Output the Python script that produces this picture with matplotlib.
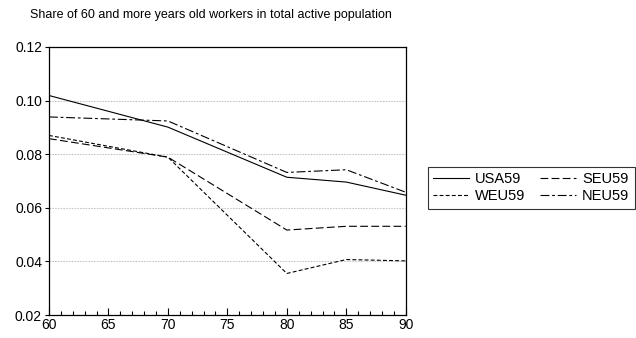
import matplotlib.pyplot as plt
from matplotlib.ticker import MultipleLocator

plt.rcParams['font.family'] = ['Liberation Sans', 'DejaVu Sans']

years = [60, 70, 80, 85, 90]
usa59 = [0.1019, 0.0901, 0.0714, 0.0696, 0.0647]
seu59 = [0.0858, 0.0789, 0.0517, 0.0531, 0.0531]
weu59 = [0.0870, 0.0789, 0.0355, 0.0407, 0.0402]
neu59 = [0.0939, 0.0924, 0.0732, 0.0742, 0.0658]

fig = plt.figure(figsize=(6.36, 3.38), dpi=100)
ax = fig.add_axes([0.077, 0.068, 0.561, 0.793])

lw = 0.8
l_usa, = ax.plot(years, usa59, color='black', lw=lw, ls='-')
l_seu, = ax.plot(years, seu59, color='black', lw=lw, ls=(0, (7, 3)))
l_weu, = ax.plot(years, weu59, color='black', lw=lw, ls=(0, (3.5, 2)))
l_neu, = ax.plot(years, neu59, color='black', lw=lw, ls=(0, (8, 2.5, 2.5, 2.5)))

ax.set_xlim(60, 90)
ax.set_ylim(0.02, 0.12)
ax.xaxis.set_major_locator(MultipleLocator(5))
ax.xaxis.set_minor_locator(MultipleLocator(1))
ax.yaxis.set_major_locator(MultipleLocator(0.02))
ax.yaxis.set_major_formatter(plt.FuncFormatter(lambda v, p: f'{v:.2f}'))

for v in [0.04, 0.06, 0.08, 0.10]:
    ax.axhline(v, color='#c8c8c8', lw=0.8, ls=(0, (1.5, 1)), zorder=0)

ax.tick_params(axis='x', which='major', direction='in', length=5, width=0.8,
               labelsize=10, pad=2)
ax.tick_params(axis='x', which='minor', direction='in', length=3, width=0.8)
ax.tick_params(axis='y', which='major', direction='out', length=3, width=0.8,
               labelsize=10, pad=2)
for s in ax.spines.values():
    s.set_linewidth(0.9)

fig.text(0.047, 0.955, 'Share of 60 and more years old workers in total active population',
         fontsize=9, va='center', ha='left')

# row-wise legend order: USA, SEU / WEU, NEU
leg = fig.legend([l_usa, l_weu, l_seu, l_neu], ['USA59', 'WEU59', 'SEU59', 'NEU59'],
                 loc='center', bbox_to_anchor=(0.835, 0.445), ncol=2,
                 fontsize=10.5, frameon=True, fancybox=False, handlelength=2.5,
                 handletextpad=0.4, columnspacing=1.0, borderpad=0.35,
                 labelspacing=0.25)
leg.get_frame().set_edgecolor('black')
leg.get_frame().set_linewidth(0.8)

fig.savefig('out.png', dpi=100)
